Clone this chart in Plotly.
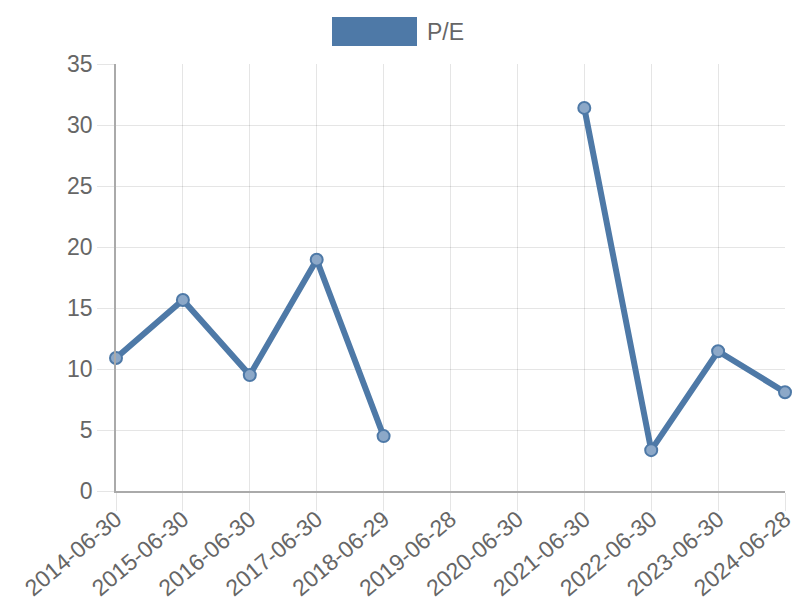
import plotly.graph_objects as go

dates = ["2014-06-30", "2015-06-30", "2016-06-30", "2017-06-30", "2018-06-29",
         "2019-06-28", "2020-06-30", "2021-06-30", "2022-06-30", "2023-06-30", "2024-06-28"]
pe = [10.9, 15.65, 9.5, 18.95, 4.5, None, None, 31.4, 3.35, 11.45, 8.1]
series_name = "P/E"

blue = "#4e79a7"
font_family = "Liberation Sans, Arial, sans-serif"
tick_color = "#666666"
grid = "rgba(0,0,0,0.1)"

# page body has an 8px margin, so the figure is offset by (8, 8)
off = 8
L, T, PW, PH = 116 - off, 64 - off, 669, 427
W, H = 800 - off, 600 - off

fig = go.Figure()
fig.add_trace(go.Scatter(
    x=dates, y=pe, mode="lines+markers", name=series_name,
    connectgaps=False,
    line=dict(color=blue, width=6),
    marker=dict(size=12, color="rgba(140,168,200,1)", line=dict(color=blue, width=2)),
    showlegend=False,
    cliponaxis=False,
))

fig.update_layout(
    width=W, height=H,
    margin=dict(l=L, r=W - L - PW, t=T, b=H - T - PH, pad=0),
    paper_bgcolor="white", plot_bgcolor="white",
    font=dict(family=font_family, size=23, color=tick_color),
    shapes=[dict(type="rect", xref="paper", yref="paper",
                 x0=(332 - 116) / PW, x1=(417 - 116) / PW,
                 y0=(491 - 46) / PH, y1=(491 - 17) / PH,
                 fillcolor=blue, line=dict(width=0))],
    annotations=[dict(text=series_name, xref="paper", yref="paper",
                      x=(425 - 116) / PW, y=(491 - 32) / PH,
                      xanchor="left", yanchor="middle", showarrow=False,
                      font=dict(size=23, color=tick_color, family=font_family))],
)
fig.update_xaxes(
    type="category", range=[0, len(dates) - 1], automargin=False,
    tickangle=-40, tickfont=dict(size=23, color=tick_color),
    showgrid=True, gridcolor=grid, gridwidth=1,
    showline=True, linecolor="#aaaaaa", linewidth=1.5,
    ticks="outside", ticklen=18, tickcolor=grid, tickwidth=1,
    ticklabelstandoff=-14,
    zeroline=False,
)
fig.update_yaxes(
    range=[0, 35], dtick=5, automargin=False,
    tickfont=dict(size=23, color=tick_color),
    showgrid=True, gridcolor=grid, gridwidth=1,
    showline=True, linecolor="#aaaaaa", linewidth=1.5,
    ticks="outside", ticklen=17, tickcolor=grid, tickwidth=1,
    zeroline=False,
)

fig.write_html("out.html")
